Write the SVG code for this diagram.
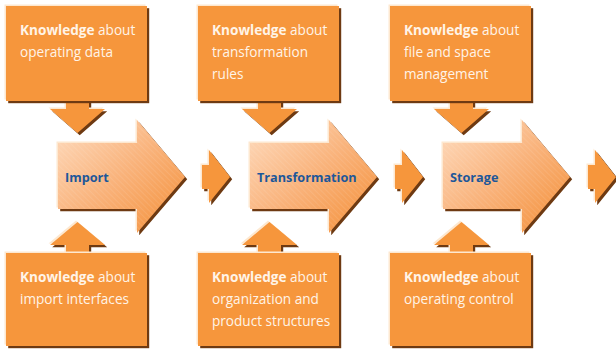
<svg xmlns="http://www.w3.org/2000/svg" xmlns:xlink="http://www.w3.org/1999/xlink" width="616" height="349" viewBox="0 0 616 349">
<style>
.dk{fill:#6e3a12}
.lt{fill:#fde8d0}
.face{fill:#f6963c}
.big{fill:url(#grad)}
.hatch{fill:url(#hatch)}
.kt{font-family:"Open Sans","Noto Sans",sans-serif;font-size:13.6px;fill:#fff4e8}
.kt .b{font-weight:bold}
.lbl{font-family:"Open Sans","Noto Sans",sans-serif;font-size:12.7px;font-weight:bold;fill:#1d5799}
</style>
<defs>
<linearGradient id="grad" x1="0" y1="0" x2="1" y2="1">
<stop offset="0" stop-color="#fedcc0"/>
<stop offset="0.5" stop-color="#f9b27a"/>
<stop offset="1" stop-color="#f48f36"/>
</linearGradient>
<pattern id="hatch" width="4" height="4" patternUnits="userSpaceOnUse" patternTransform="rotate(-45)">
<line x1="0" y1="0" x2="0" y2="4" stroke="#ffffff" stroke-width="1" stroke-opacity="0.18"/>
</pattern>
<path id="bigA" d="M58,143 H137 V120 L185,177 L137,233 V209 H58 Z"/>
<path id="smA" d="M202,165 H209 V150 L230,177 L209,203 V189 H202 Z"/>
<path id="downA" d="M66,100 H89 V109 H105 L77.5,133 L50,109 H66 Z"/>
<path id="upA" d="M77.5,222 L105,245 H89 V255 H66 V245 H50 Z"/>
<rect id="topBox" x="6" y="6" width="141" height="95"/>
<rect id="botBox" x="6" y="253" width="141" height="93"/>
</defs>

<g id="connectors">
<g>
<use href="#smA" class="dk" transform="translate(2.2,2.2)"/><use href="#smA" class="lt" transform="translate(-1.5,-1.5)"/><use href="#smA" class="face"/>
</g>
<g transform="translate(193,0)">
<use href="#smA" class="dk" transform="translate(2.2,2.2)"/><use href="#smA" class="lt" transform="translate(-1.5,-1.5)"/><use href="#smA" class="face"/>
</g>
<g transform="translate(386,0)">
<use href="#smA" class="dk" transform="translate(2.2,2.2)"/><use href="#smA" class="lt" transform="translate(-1.5,-1.5)"/><use href="#smA" class="face"/>
</g>
<g>
<use href="#downA" class="dk" transform="translate(2.2,2.2)"/><use href="#downA" class="lt" transform="translate(-1.5,-1.5)"/><use href="#downA" class="face"/>
<use href="#upA" class="dk" transform="translate(2.2,2.2)"/><use href="#upA" class="lt" transform="translate(-1.5,-1.5)"/><use href="#upA" class="face"/>
</g>
<g transform="translate(192,0)">
<use href="#downA" class="dk" transform="translate(2.2,2.2)"/><use href="#downA" class="lt" transform="translate(-1.5,-1.5)"/><use href="#downA" class="face"/>
<use href="#upA" class="dk" transform="translate(2.2,2.2)"/><use href="#upA" class="lt" transform="translate(-1.5,-1.5)"/><use href="#upA" class="face"/>
</g>
<g transform="translate(384,0)">
<use href="#downA" class="dk" transform="translate(2.2,2.2)"/><use href="#downA" class="lt" transform="translate(-1.5,-1.5)"/><use href="#downA" class="face"/>
<use href="#upA" class="dk" transform="translate(2.2,2.2)"/><use href="#upA" class="lt" transform="translate(-1.5,-1.5)"/><use href="#upA" class="face"/>
</g>
</g>

<g id="import">
<use href="#bigA" class="dk" transform="translate(2.2,2.2)"/><use href="#bigA" class="lt" transform="translate(-1.5,-1.5)"/><use href="#bigA" class="big"/><use href="#bigA" class="hatch"/>
<text class="lbl" x="65" y="182">Import</text>
</g>
<g id="transformation" transform="translate(192,0)">
<use href="#bigA" class="dk" transform="translate(2.2,2.2)"/><use href="#bigA" class="lt" transform="translate(-1.5,-1.5)"/><use href="#bigA" class="big"/><use href="#bigA" class="hatch"/>
<text class="lbl" x="65" y="182">Transformation</text>
</g>
<g id="storage" transform="translate(385,0)">
<use href="#bigA" class="dk" transform="translate(2.2,2.2)"/><use href="#bigA" class="lt" transform="translate(-1.5,-1.5)"/><use href="#bigA" class="big"/><use href="#bigA" class="hatch"/>
<text class="lbl" x="65" y="182">Storage</text>
</g>

<g id="k-operating-data">
<use href="#topBox" class="dk" transform="translate(2.2,2.2)"/><use href="#topBox" class="lt" transform="translate(-1.5,-1.5)"/><use href="#topBox" class="face"/>
<text class="kt" x="20" y="35"><tspan class="b">Knowledge</tspan> about</text>
<text class="kt" x="20" y="57">operating data</text>
</g>
<g id="k-transformation-rules" transform="translate(192,0)">
<use href="#topBox" class="dk" transform="translate(2.2,2.2)"/><use href="#topBox" class="lt" transform="translate(-1.5,-1.5)"/><use href="#topBox" class="face"/>
<text class="kt" x="20" y="35"><tspan class="b">Knowledge</tspan> about</text>
<text class="kt" x="20" y="57">transformation</text>
<text class="kt" x="20" y="79">rules</text>
</g>
<g id="k-file-space" transform="translate(384,0)">
<use href="#topBox" class="dk" transform="translate(2.2,2.2)"/><use href="#topBox" class="lt" transform="translate(-1.5,-1.5)"/><use href="#topBox" class="face"/>
<text class="kt" x="20" y="35"><tspan class="b">Knowledge</tspan> about</text>
<text class="kt" x="20" y="57">file and space</text>
<text class="kt" x="20" y="79">management</text>
</g>
<g id="k-import-interfaces">
<use href="#botBox" class="dk" transform="translate(2.2,2.2)"/><use href="#botBox" class="lt" transform="translate(-1.5,-1.5)"/><use href="#botBox" class="face"/>
<text class="kt" x="20" y="282"><tspan class="b">Knowledge</tspan> about</text>
<text class="kt" x="20" y="304">import interfaces</text>
</g>
<g id="k-organization" transform="translate(192,0)">
<use href="#botBox" class="dk" transform="translate(2.2,2.2)"/><use href="#botBox" class="lt" transform="translate(-1.5,-1.5)"/><use href="#botBox" class="face"/>
<text class="kt" x="20" y="282"><tspan class="b">Knowledge</tspan> about</text>
<text class="kt" x="20" y="304">organization and</text>
<text class="kt" x="20" y="326">product structures</text>
</g>
<g id="k-operating-control" transform="translate(384,0)">
<use href="#botBox" class="dk" transform="translate(2.2,2.2)"/><use href="#botBox" class="lt" transform="translate(-1.5,-1.5)"/><use href="#botBox" class="face"/>
<text class="kt" x="20" y="282"><tspan class="b">Knowledge</tspan> about</text>
<text class="kt" x="20" y="304">operating control</text>
</g>
</svg>
